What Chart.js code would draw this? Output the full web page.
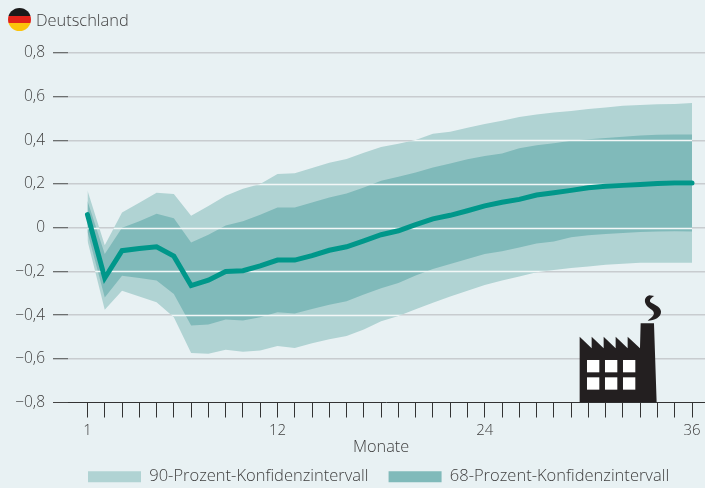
<!DOCTYPE html>
<html lang="de">
<head>
<meta charset="utf-8">
<title>Deutschland</title>
<script src="https://cdn.jsdelivr.net/npm/chart.js@4"></script>
<style>
  html, body { margin: 0; padding: 0; background: #e8f1f3; }
  #wrap { position: relative; width: 705px; height: 488px; overflow: hidden; }
  #flag {
    position: absolute; left: 8px; top: 8px; width: 23px; height: 23px; border-radius: 50%;
    background: linear-gradient(#1a1a1a 0 33%, #e2231a 33% 66%, #fcc30b 66% 100%);
  }
  #country {
    position: absolute; left: 36px; top: 8px; font: 300 16.4px "Open Sans", sans-serif; color: #404040;
  }
  #axisName {
    position: absolute; left: 353px; top: 435px; font: 300 16.3px "Open Sans", sans-serif; color: #404040;
  }
  #factory { position: absolute; left: 0; top: 0; }
</style>
</head>
<body>
<div id="wrap">
  <canvas id="chart" width="705" height="488"></canvas>
  <div id="flag"></div>
  <div id="country">Deutschland</div>
  <div id="axisName">Monate</div>
  <svg id="factory" width="705" height="488">
    <g transform="translate(465 280) scale(0.3333)">
      <path fill="#231f20" d="M344 367V170L380 205V170L416 205V170L452 205V170L488 205V170L525 205L527 130H567L575 367Z"/>
      <path fill="#231f20" d="M553 46C538 50 536 66 546 78C556 88 570 92 566 104C562 112 554 116 548 122C568 122 590 112 588 94C586 78 566 74 556 66C552 60 560 52 568 48Z"/>
      <g fill="#ffffff">
        <rect x="366" y="240" width="37" height="37"/><rect x="420" y="240" width="37" height="37"/><rect x="474" y="240" width="37" height="37"/>
        <rect x="366" y="292" width="37" height="37"/><rect x="420" y="292" width="37" height="37"/><rect x="474" y="292" width="37" height="37"/>
      </g>
    </g>
  </svg>
</div>
<script>
const months = [
  1, 2, 3, 4, 5, 6, 7, 8, 9, 10, 11, 12,
  13, 14, 15, 16, 17, 18, 19, 20, 21, 22, 23, 24,
  25, 26, 27, 28, 29, 30, 31, 32, 33, 34, 35, 36,
];
const labelledMonths = [1, 12, 24, 36];
const yTicks = [-0.8, -0.6, -0.4, -0.2, 0, 0.2, 0.4, 0.6, 0.8];

const estimate = [
  0.06, -0.23, -0.105, -0.095, -0.087, -0.13, -0.265, -0.24, -0.2, -0.197, -0.175, -0.148,
  -0.148, -0.128, -0.103, -0.087, -0.06, -0.032, -0.014, 0.014, 0.041, 0.057, 0.078, 0.1,
  0.117, 0.13, 0.15, 0.16, 0.171, 0.183, 0.19, 0.194, 0.198, 0.203, 0.205, 0.205,
];
const upper90 = [
  0.17, -0.08, 0.07, 0.115, 0.16, 0.155, 0.055, 0.1, 0.146, 0.178, 0.2, 0.246,
  0.25, 0.274, 0.298, 0.315, 0.343, 0.37, 0.384, 0.402, 0.43, 0.44, 0.458, 0.475,
  0.49, 0.507, 0.519, 0.528, 0.535, 0.544, 0.551, 0.558, 0.562, 0.565, 0.567, 0.571,
];
const lower90 = [
  -0.06, -0.375, -0.288, -0.315, -0.341, -0.41, -0.573, -0.577, -0.559, -0.568, -0.562, -0.541,
  -0.55, -0.529, -0.51, -0.495, -0.466, -0.428, -0.404, -0.373, -0.343, -0.315, -0.288, -0.262,
  -0.242, -0.223, -0.204, -0.193, -0.184, -0.177, -0.169, -0.165, -0.16, -0.16, -0.16, -0.16,
];
const upper68 = [
  0.123, -0.12, 0, 0.03, 0.064, 0.043, -0.067, -0.032, 0.01, 0.03, 0.06, 0.093,
  0.093, 0.116, 0.139, 0.157, 0.184, 0.215, 0.233, 0.253, 0.276, 0.294, 0.314, 0.329,
  0.34, 0.364, 0.378, 0.387, 0.398, 0.405, 0.411, 0.417, 0.422, 0.426, 0.427, 0.427,
];
const lower68 = [
  -0.02, -0.319, -0.22, -0.23, -0.242, -0.303, -0.448, -0.443, -0.42, -0.425, -0.41, -0.387,
  -0.393, -0.372, -0.352, -0.337, -0.306, -0.277, -0.253, -0.219, -0.189, -0.166, -0.143, -0.12,
  -0.108, -0.09, -0.072, -0.063, -0.044, -0.034, -0.029, -0.024, -0.02, -0.017, -0.016, -0.017,
];

const fontFamily = '"Open Sans", sans-serif';
const textColor = "#404040";

function band(label, values, order, fill, color) {
  return {
    label,
    data: values,
    order,
    fill,
    backgroundColor: color,
    borderWidth: 0,
    pointRadius: 0,
    tension: 0,
  };
}

function formatY(value) {
  if (Math.abs(value) < 0.001) return "0";
  const text = Math.abs(value).toFixed(1).replace(".", ",");
  return value < 0 ? "\u2212" + text : text;
}

// grid lines turn white where they run across the confidence bands
const whiteGridOverBands = {
  id: "whiteGridOverBands",
  beforeDatasetDraw(chart, args) {
    if (args.index !== 4) return;
    const { ctx, scales } = chart;
    const top = chart.getDatasetMeta(0).data;
    const bottom = chart.getDatasetMeta(1).data;
    ctx.save();
    ctx.beginPath();
    top.forEach((p, i) => (i ? ctx.lineTo(p.x, p.y) : ctx.moveTo(p.x, p.y)));
    [...bottom].reverse().forEach((p) => ctx.lineTo(p.x, p.y));
    ctx.closePath();
    ctx.clip();
    ctx.strokeStyle = "#f2f7f7";
    ctx.lineWidth = 1.5;
    yTicks.forEach((v) => {
      const y = Math.round(scales.y.getPixelForValue(v)) + 0.5;
      ctx.beginPath();
      ctx.moveTo(scales.x.left, y);
      ctx.lineTo(scales.x.right, y);
      ctx.stroke();
    });
    ctx.restore();
  },
};

new Chart(document.getElementById("chart"), {
  type: "line",
  data: {
    labels: months,
    datasets: [
      band("90-Prozent-Konfidenzintervall", upper90, 5, "+1", "#b0d3d3"),
      band("lower90", lower90, 4, false, "#b0d3d3"),
      band("68-Prozent-Konfidenzintervall", upper68, 3, "+1", "#80baba"),
      band("lower68", lower68, 2, false, "#80baba"),
      {
        label: "estimate",
        data: estimate,
        order: 1,
        fill: false,
        borderColor: "#00978a",
        borderWidth: 5,
        borderCapStyle: "round",
        borderJoinStyle: "miter",
        pointRadius: 0,
        tension: 0,
      },
    ],
  },
  options: {
    responsive: false,
    animation: false,
    layout: { padding: { top: 53, right: 0, bottom: -7, left: 0 } },
    plugins: {
      tooltip: { enabled: false },
      legend: {
        position: "bottom",
        align: "start",
        fullSize: false,
        labels: {
          boxWidth: 53,
          boxHeight: 11,
          padding: 20,
          color: textColor,
          font: { family: fontFamily, size: 16.5, weight: "300" },
          filter: (item) => item.text.includes("Prozent"),
          sort: (a, b) => a.datasetIndex - b.datasetIndex,
        },
      },
    },
    scales: {
      x: {
        type: "linear",
        min: -0.128,
        max: 36.752,
        afterBuildTicks: (scale) => {
          scale.ticks = months.map((value) => ({ value }));
        },
        afterFit: (scale) => {
          scale.height = 46;
        },
        border: { display: false },
        grid: { drawOnChartArea: false, tickLength: 15, tickColor: "#333333", tickWidth: 1 },
        ticks: {
          autoSkip: false,
          maxRotation: 0,
          padding: 4,
          color: textColor,
          font: { family: fontFamily, size: 15, weight: "300" },
          callback: (value) => (labelledMonths.includes(value) ? String(value) : ""),
        },
      },
      y: {
        min: -0.8,
        max: 0.8,
        afterBuildTicks: (scale) => {
          scale.ticks = yTicks.map((value) => ({ value }));
        },
        afterFit: (scale) => {
          scale.width = 68;
        },
        border: { display: false },
        grid: {
          color: (c) => (c.tick.value === -0.8 ? "#333333" : "#c8cccf"),
          lineWidth: (c) => (c.tick.value === -0.8 ? 1 : 1.5),
          tickLength: 15,
          tickColor: "#444444",
          tickWidth: 1,
        },
        ticks: {
          padding: 8,
          color: textColor,
          font: { family: fontFamily, size: 15.5, weight: "300" },
          callback: formatY,
        },
      },
    },
  },
  plugins: [whiteGridOverBands],
});
</script>
</body>
</html>
